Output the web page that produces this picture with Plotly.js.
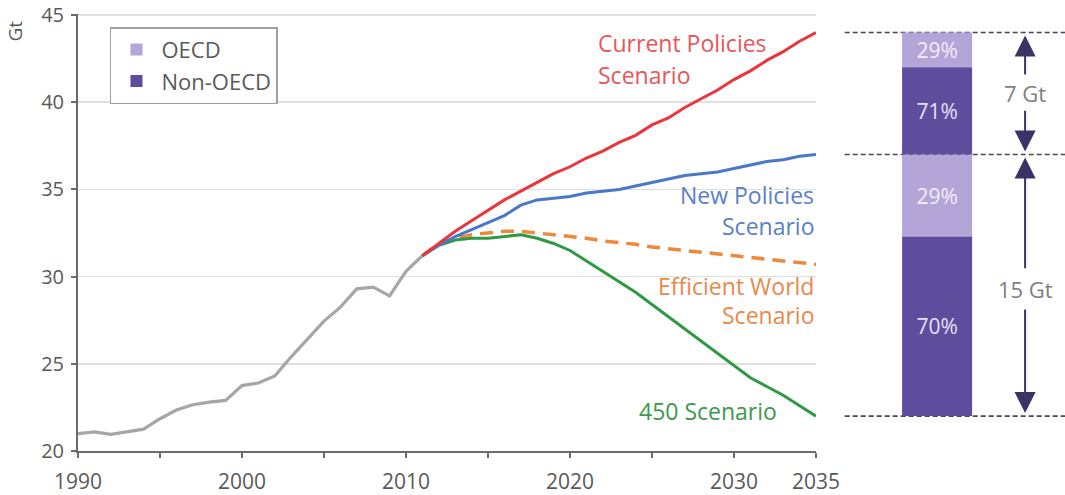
<!DOCTYPE html>
<html>
<head>
<meta charset="utf-8">
<script src="https://cdn.plot.ly/plotly-3.0.1.min.js"></script>
<style>html,body{margin:0;padding:0;background:#fff;}#chart{width:1065px;height:495px;}</style>
</head>
<body>
<div id="chart"></div>
<script>
// ---- data ----
const histYears = [1990,1991,1992,1993,1994,1995,1996,1997,1998,1999,2000,2001,2002,2003,2004,2005,2006,2007,2008,2009,2010,2011];
const histGt = [21.0,21.1,20.95,21.1,21.25,21.85,22.35,22.65,22.8,22.9,23.75,23.9,24.3,25.4,26.45,27.45,28.25,29.3,29.4,28.9,30.3,31.2];
const projYears = [2011,2012,2013,2014,2015,2016,2017,2018,2019,2020,2021,2022,2023,2024,2025,2026,2027,2028,2029,2030,2031,2032,2033,2034,2035];
const currentPolicies = [31.2,31.9,32.6,33.2,33.8,34.4,34.9,35.4,35.9,36.3,36.8,37.2,37.7,38.1,38.7,39.1,39.7,40.2,40.7,41.3,41.8,42.4,42.9,43.5,44.0];
const newPolicies = [31.2,31.8,32.3,32.7,33.1,33.5,34.1,34.4,34.5,34.6,34.8,34.9,35.0,35.2,35.4,35.6,35.8,35.9,36.0,36.2,36.4,36.6,36.7,36.9,37.0];
const efficientWorld = [31.2,31.9,32.2,32.4,32.5,32.6,32.6,32.5,32.4,32.3,32.2,32.05,31.95,31.85,31.7,31.6,31.5,31.4,31.3,31.2,31.1,31.0,30.9,30.8,30.7];
const scenario450 = [31.2,31.8,32.1,32.2,32.2,32.3,32.4,32.2,31.9,31.5,30.9,30.3,29.7,29.1,28.4,27.7,27.0,26.3,25.6,24.9,24.2,23.7,23.2,22.6,22.0];
// savings bars (Gt): lower = NPS vs 450, upper = CPS vs NPS
const barBase = 22.0;
const nonOecdGt = [10.3, 5.0];
const oecdGt = [4.7, 2.0];
const nonOecdShare = ['70%', '71%'];
const oecdShare = ['29%', '29%'];
const spanLabels = ['15 Gt', '7 Gt'];
const xTickVals = [1990,1995,2000,2005,2010,2015,2020,2025,2030,2035];
const xTickText = ['1990','','2000','','2010','','2020','','2030','2035'];
const yTickVals = [20,25,30,35,40,45];

// ---- derived ----
const nonOecdBase = [barBase, barBase + nonOecdGt[0] + oecdGt[0]];
const oecdBase = [nonOecdBase[0] + nonOecdGt[0], nonOecdBase[1] + nonOecdGt[1]];
const levels = [barBase, oecdBase[0] + oecdGt[0], oecdBase[1] + oecdGt[1]];

const FONT = 'Open Sans, sans-serif';
const traces = [
  {x: histYears, y: histGt, type: 'scatter', mode: 'lines', line: {color: '#a6a6a6', width: 3.2}, showlegend: false, xaxis: 'x', yaxis: 'y'},
  {x: projYears, y: efficientWorld, type: 'scatter', mode: 'lines', line: {color: '#f0883a', width: 3.5, dash: '13px,8px'}, showlegend: false},
  {x: projYears, y: scenario450, type: 'scatter', mode: 'lines', line: {color: '#2f9a45', width: 3}, showlegend: false},
  {x: projYears, y: newPolicies, type: 'scatter', mode: 'lines', line: {color: '#4a78c9', width: 3}, showlegend: false},
  {x: projYears, y: currentPolicies, type: 'scatter', mode: 'lines', line: {color: '#e8363c', width: 3}, showlegend: false},
  {name: 'OECD', x: [0, 0], y: oecdGt, base: oecdBase, type: 'bar', width: 1, marker: {color: '#b3a5d8'},
   text: oecdShare, textposition: 'inside', insidetextanchor: 'middle', textfont: {color: '#f2eefa', size: 21, family: FONT},
   xaxis: 'x2', yaxis: 'y2', hoverinfo: 'skip'},
  {name: 'Non-OECD', x: [0, 0], y: nonOecdGt, base: nonOecdBase, type: 'bar', width: 1, marker: {color: '#5e4c9c'},
   text: nonOecdShare, textposition: 'inside', insidetextanchor: 'middle', textfont: {color: '#e6e0f4', size: 21, family: FONT},
   xaxis: 'x2', yaxis: 'y2', hoverinfo: 'skip'}
];

const shapes = levels.map(v => ({type: 'line', xref: 'x2', yref: 'y2', x0: -1.32, x1: 1.83, y0: v, y1: v,
  line: {color: '#4a4a5a', width: 1.6, dash: '5px,3px'}, layer: 'below'}));

const arrowColor = '#3b3366';
const arrowX = 1.257;
function arrow(head, tail) {
  return {xref: 'x2', yref: 'y2', axref: 'x2', ayref: 'y2', x: arrowX, y: head, ax: arrowX, ay: tail,
    text: '', showarrow: true, arrowhead: 2, arrowsize: 2.1, arrowwidth: 2, arrowcolor: arrowColor, standoff: 3};
}
const annotations = [
  arrow(levels[2], 41.5), arrow(levels[1], 39.6),
  arrow(levels[1], 30.4), arrow(levels[0], 28.2),
  {xref: 'x2', yref: 'y2', x: arrowX, y: 40.55, text: spanLabels[1], showarrow: false, font: {family: FONT, size: 22, color: '#7f7f7f'}},
  {xref: 'x2', yref: 'y2', x: arrowX, y: 29.3, text: spanLabels[0], showarrow: false, font: {family: FONT, size: 22, color: '#7f7f7f'}},
  {xref: 'x', yref: 'y', x: 2021.6, y: 43.42, xanchor: 'left', text: 'Current Policies', showarrow: false, font: {family: FONT, size: 23, color: '#e8565a'}},
  {xref: 'x', yref: 'y', x: 2021.6, y: 41.59, xanchor: 'left', text: 'Scenario', showarrow: false, font: {family: FONT, size: 23, color: '#e8565a'}},
  {xref: 'x', yref: 'y', x: 2035, y: 34.68, xanchor: 'right', text: 'New Policies', showarrow: false, font: {family: FONT, size: 23, color: '#5b80c8'}},
  {xref: 'x', yref: 'y', x: 2035, y: 32.91, xanchor: 'right', text: 'Scenario', showarrow: false, font: {family: FONT, size: 23, color: '#5b80c8'}},
  {xref: 'x', yref: 'y', x: 2035, y: 29.49, xanchor: 'right', text: 'Efficient World', showarrow: false, font: {family: FONT, size: 23, color: '#e8894c'}},
  {xref: 'x', yref: 'y', x: 2035, y: 27.78, xanchor: 'right', text: 'Scenario', showarrow: false, font: {family: FONT, size: 23, color: '#e8894c'}},
  {xref: 'x', yref: 'y', x: 2028.4, y: 22.31, xanchor: 'center', text: '450 Scenario', showarrow: false, font: {family: FONT, size: 23, color: '#3a9a4a'}},
  {xref: 'paper', yref: 'paper', x: -0.0638, y: 0.96, xanchor: 'center', yanchor: 'middle', text: 'Gt', textangle: -90, showarrow: false, font: {family: FONT, size: 19, color: '#595959'}}
];

const axisCommon = {showline: true, linecolor: '#6b6b6b', linewidth: 2, ticks: 'outside', ticklen: 5, tickwidth: 2, tickcolor: '#6b6b6b',
  tickfont: {family: FONT, size: 20, color: '#595959'}, zeroline: false, fixedrange: true, ticklabeloverflow: 'allow'};

const layout = {
  width: 1065, height: 495,
  margin: {l: 78, r: 0, t: 14, b: 44, pad: 0},
  paper_bgcolor: '#ffffff', plot_bgcolor: 'rgba(0,0,0,0)',
  font: {family: FONT, color: '#595959'},
  barmode: 'overlay',
  xaxis: Object.assign({}, axisCommon, {domain: [0, 0.7477], range: [1990, 2035], tickvals: xTickVals, ticktext: xTickText, showgrid: false, anchor: 'y', ticklabelstandoff: 6, tickfont: {family: FONT, size: 21, color: '#595959'}}),
  yaxis: Object.assign({}, axisCommon, {domain: [0, 1], range: [20, 45.06], tickvals: yTickVals, showgrid: true, gridcolor: '#e0e0e0', gridwidth: 1.5, anchor: 'x', ticklabelstandoff: 3}),
  xaxis2: {domain: [0.7477, 1], range: [-1.73, 1.827], visible: false, anchor: 'y2', fixedrange: true},
  yaxis2: {domain: [0, 1], range: [20, 45.06], visible: false, anchor: 'x2', fixedrange: true},
  showlegend: true,
  legend: {x: 0.0324, y: 0.97, xanchor: 'left', yanchor: 'top', bordercolor: '#a0a0a0', borderwidth: 1.5, bgcolor: '#ffffff',
    font: {family: FONT, size: 22, color: '#595959'}, traceorder: 'normal', itemwidth: 40},
  shapes: shapes,
  annotations: annotations
};

Plotly.newPlot('chart', traces, layout, {displayModeBar: false, staticPlot: true});
</script>
</body>
</html>
